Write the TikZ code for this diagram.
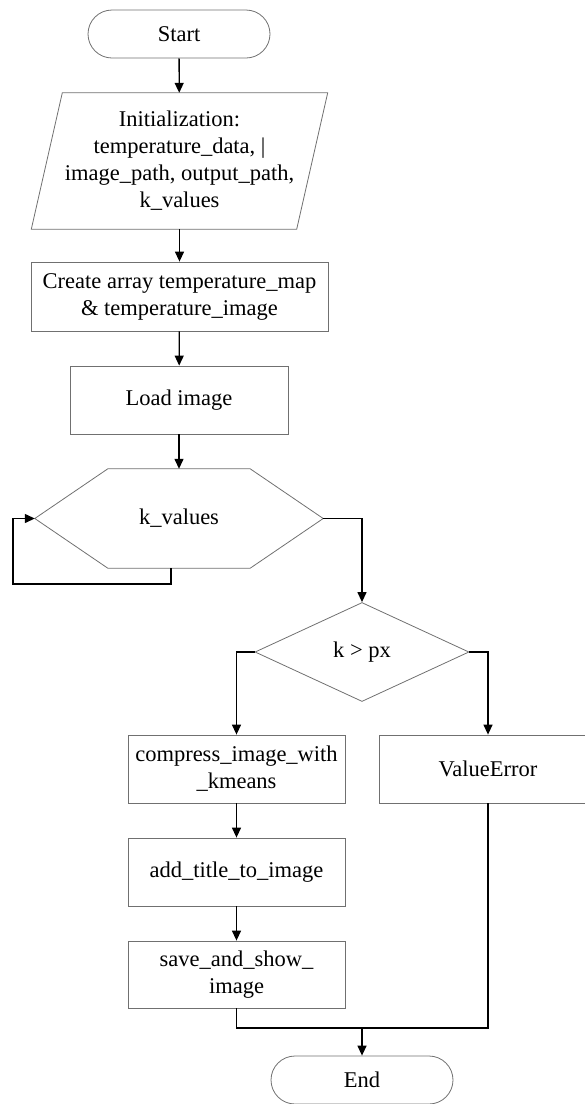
\documentclass[tikz,border=0pt]{standalone}
\usepackage{fontspec}
\setmainfont{Liberation Serif}
\usetikzlibrary{arrows.meta,positioning,shapes.geometric}
\definecolor{ChartEdge}{HTML}{707070}
\definecolor{ChartInk}{HTML}{000000}

\begin{document}
\begin{tikzpicture}[x=1pt,y=-1pt,font=\fontsize{22.5}{27}\selectfont,>=Triangle]
\tikzset{
  term/.style={draw=ChartEdge,line width=0.8pt,rounded corners=24pt,
               minimum width=182pt,minimum height=48pt,align=center,text=ChartInk},
  proc/.style={draw=ChartEdge,line width=0.8pt,minimum width=217pt,
               minimum height=68pt,align=center,text=ChartInk},
  shell/.style={minimum width=265pt,minimum height=136pt,align=center,text=ChartInk},
  outline/.style={draw=ChartEdge,line width=0.8pt},
  decide/.style={diamond,draw=ChartEdge,line width=0.8pt,aspect=2.16,inner sep=0pt,
                 minimum width=214pt,minimum height=99pt,align=center,text=ChartInk},
  flow/.style={ChartInk,line width=1.3pt,-{Triangle[length=10pt,width=9pt]}},
  link/.style={ChartInk,line width=1.3pt}
}
\useasboundingbox (0,0) rectangle (585,1104);
\clip (0,0) rectangle (585,1104);

% ---------- start and inputs ---------------------------------------------
\node[term] (start) at (179,34) {Start};
\node[shell] (init) at (179.5,161)
  {Initialization:\\temperature\_data, |\\image\_path, output\_path,\\k\_values};
\draw[outline] ([xshift=15.5pt]init.north west) -- ([xshift=15.5pt]init.north east)
  -- ([xshift=-15.5pt]init.south east) -- ([xshift=-15.5pt]init.south west) -- cycle;
\node[proc,minimum width=297pt,minimum height=69pt] (arr) at (179.5,296.5)
  {Create array temperature\_map\\\& temperature\_image};
\node[proc,minimum width=218pt] (load) at (179,400) {Load image};

\draw[flow] (start) -- (init);
\draw[flow] (init) -- (arr);
\draw[flow] (arr) -- (load);

% ---------- loop over k --------------------------------------------------
\node[minimum width=288pt,minimum height=99pt] (kv) at (179,518.5) {k\_values};
\draw[outline] (kv.west) -- ([xshift=73pt]kv.north west) -- ([xshift=-73pt]kv.north east)
  -- (kv.east) -- ([xshift=-73pt]kv.south east) -- ([xshift=73pt]kv.south west) -- cycle;
\coordinate (back) at (13,584);
\draw[flow] (load) -- (kv);
\draw[flow] ([xshift=-8pt]kv.south) |- (back) |- (kv.west);

% ---------- the check ----------------------------------------------------
\node[decide] (chk) at (362,652) {k > px};
\draw[flow] (kv.east) -| (chk.north);

\node[proc] (comp) at (236.5,769) {compress\_image\_with\\\_kmeans};
\node[proc,minimum width=218pt] (err) at (488,769) {ValueError};
\node[proc] (title) at (236.5,872) {add\_title\_to\_image};
\node[proc,minimum height=67pt] (save) at (236.5,974.5) {save\_and\_show\_\\image};

\draw[flow] (chk.west) -| (comp.north);
\draw[flow] (chk.east) -| (err.north);
\draw[flow] (comp) -- (title);
\draw[flow] (title) -- (save);

% ---------- end ----------------------------------------------------------
\node[term] (end) at (362,1080) {End};
\coordinate (join) at (362,1028);
\draw[link] (save.south) |- (join);
\draw[link] (err.south) |- (join);
\draw[flow] (join) -- (end.north);
\end{tikzpicture}
\end{document}
